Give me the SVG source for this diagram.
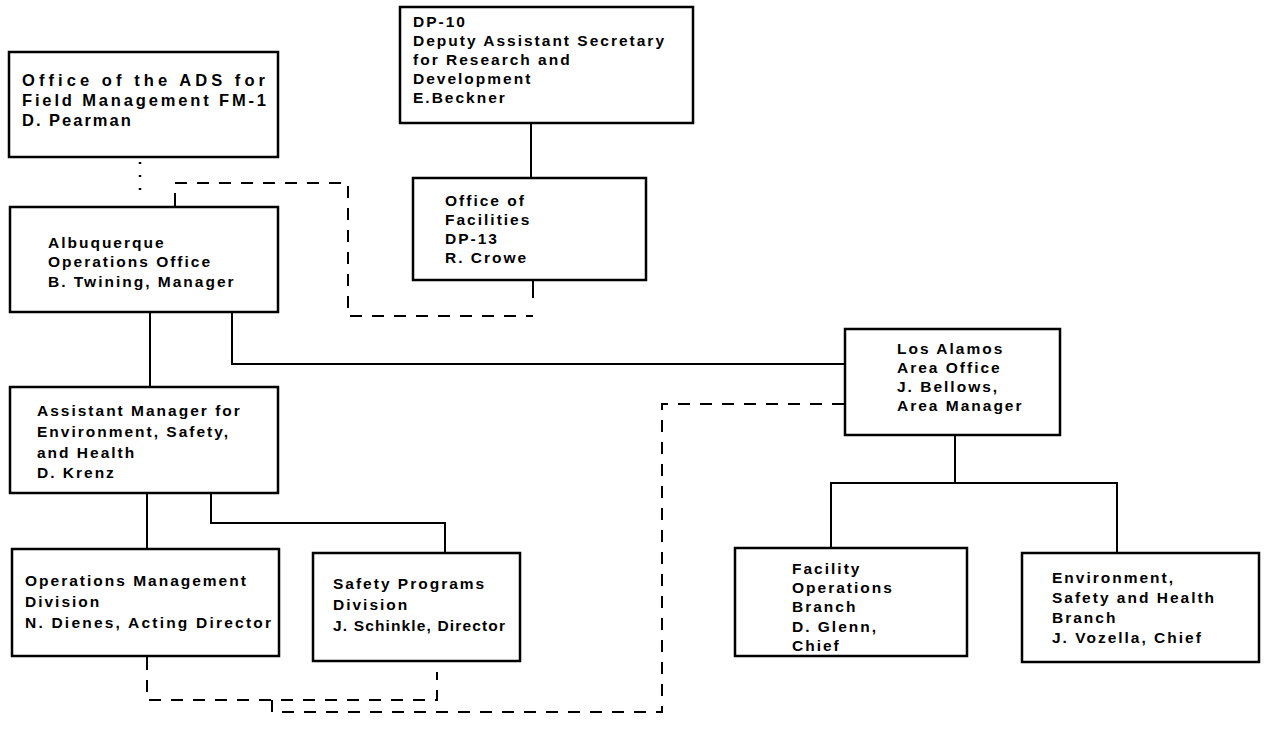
<svg xmlns="http://www.w3.org/2000/svg" width="1270" height="745" viewBox="0 0 1270 745">
<style>
.box{fill:#fff;stroke:#000;stroke-width:2.5}
.t{font-family:"Liberation Sans",Arial,sans-serif;font-weight:bold;font-size:15.5px;letter-spacing:2px;fill:#000}
.big{font-size:16.5px}
.ln{fill:none;stroke:#000;stroke-width:2}
.ds{fill:none;stroke:#000;stroke-width:2;stroke-dasharray:12 10}
.dt{fill:none;stroke:#000;stroke-width:2.5;stroke-dasharray:2 11}
</style>
<rect width="1270" height="745" fill="#fff"/>
<g id="connectors">
<path class="dt" d="M140,162 V196"/>
<path class="ln" d="M175,207 V193"/>
<path class="ds" d="M175,183 H348 V316 H533"/>
<path class="ln" d="M533,280 V298"/>
<path class="ln" d="M531,123 V178"/>
<path class="ln" d="M150,312 V388"/>
<path class="ln" d="M232,312 V364 H845"/>
<path class="ln" d="M147,493 V549"/>
<path class="ln" d="M211,493 V523 H445 V553"/>
<path class="ln" d="M955,435 V483"/>
<path class="ln" d="M831,548 V483 H1117 V554"/>
<path class="ln" d="M147,656 V670"/>
<path class="ds" d="M147,680 V700 H437 V672"/>
<path class="ds" d="M272,700 V712 H662 V404 H845"/>
</g>
<g id="n_fm1">
<rect class="box" x="9" y="52" width="269" height="105"/>
<text class="t big" x="22" y="86" textLength="245">Office of the ADS for</text>
<text class="t big" x="22" y="106" textLength="246">Field Management FM-1</text>
<text class="t big" x="22" y="126">D. Pearman</text>
</g>
<g id="n_dp10">
<rect class="box" x="400" y="7" width="293" height="116"/>
<text class="t" x="413" y="27">DP-10</text>
<text class="t" x="413" y="46">Deputy Assistant Secretary</text>
<text class="t" x="413" y="65">for Research and</text>
<text class="t" x="413" y="84">Development</text>
<text class="t" x="413" y="103">E.Beckner</text>
</g>
<g id="n_dp13">
<rect class="box" x="413" y="178" width="233" height="102"/>
<text class="t" x="445" y="206">Office of</text>
<text class="t" x="445" y="225">Facilities</text>
<text class="t" x="445" y="244">DP-13</text>
<text class="t" x="445" y="263">R. Crowe</text>
</g>
<g id="n_alb">
<rect class="box" x="10" y="207" width="268" height="105"/>
<text class="t" x="48" y="248">Albuquerque</text>
<text class="t" x="48" y="267">Operations Office</text>
<text class="t" x="48" y="287">B. Twining, Manager</text>
</g>
<g id="n_la">
<rect class="box" x="845" y="329" width="215" height="106"/>
<text class="t" x="897" y="354">Los Alamos</text>
<text class="t" x="897" y="373">Area Office</text>
<text class="t" x="897" y="392">J. Bellows,</text>
<text class="t" x="897" y="411">Area Manager</text>
</g>
<g id="n_am">
<rect class="box" x="10" y="387" width="268" height="106"/>
<text class="t" x="37" y="416">Assistant Manager for</text>
<text class="t" x="37" y="437">Environment, Safety,</text>
<text class="t" x="37" y="458">and Health</text>
<text class="t" x="37" y="478">D. Krenz</text>
</g>
<g id="n_ops">
<rect class="box" x="12" y="549" width="267" height="107"/>
<text class="t" x="25" y="586">Operations Management</text>
<text class="t" x="25" y="607">Division</text>
<text class="t" x="25" y="628" textLength="248">N. Dienes, Acting Director</text>
</g>
<g id="n_safety">
<rect class="box" x="313" y="553" width="207" height="108"/>
<text class="t" x="333" y="589">Safety Programs</text>
<text class="t" x="333" y="610">Division</text>
<text class="t" x="333" y="631" textLength="174">J. Schinkle, Director</text>
</g>
<g id="n_fac">
<rect class="box" x="735" y="548" width="232" height="108"/>
<text class="t" x="792" y="574">Facility</text>
<text class="t" x="792" y="593">Operations</text>
<text class="t" x="792" y="612">Branch</text>
<text class="t" x="792" y="632">D. Glenn,</text>
<text class="t" x="792" y="651">Chief</text>
</g>
<g id="n_esh">
<rect class="box" x="1022" y="553" width="237" height="109"/>
<text class="t" x="1052" y="583">Environment,</text>
<text class="t" x="1052" y="603">Safety and Health</text>
<text class="t" x="1052" y="623">Branch</text>
<text class="t" x="1052" y="643">J. Vozella, Chief</text>
</g>
</svg>
